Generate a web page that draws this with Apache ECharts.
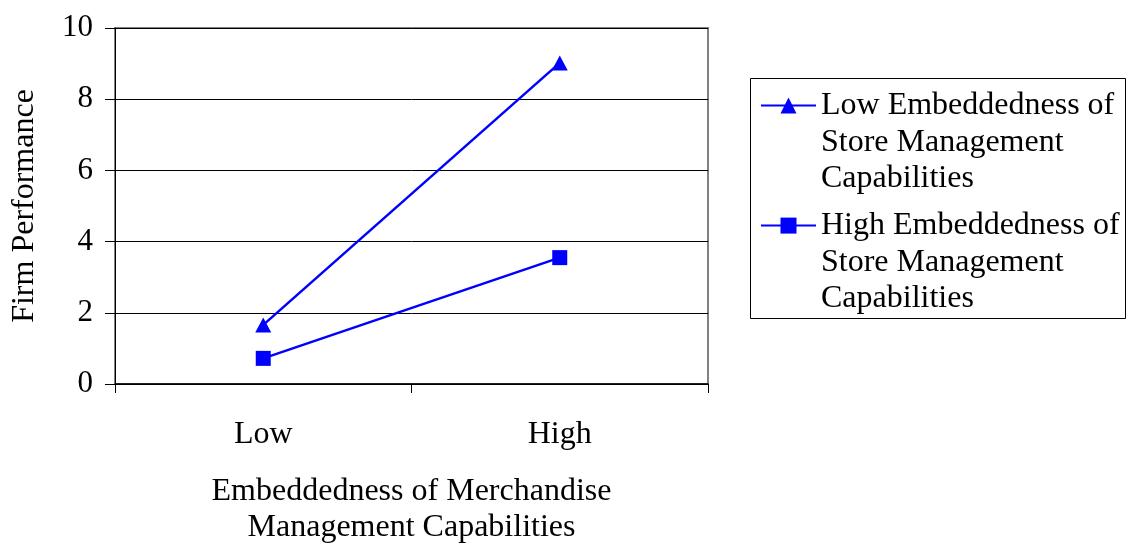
<!DOCTYPE html>
<html>
<head>
<meta charset="utf-8">
<script src="https://cdn.jsdelivr.net/npm/echarts@6/dist/echarts.min.js"></script>
<style>
  html, body { margin: 0; padding: 0; background: #fff; }
  #chart { width: 1127px; height: 543px; }
</style>
</head>
<body>
<div id="chart"></div>
<script>
// Categories on the x axis: embeddedness of merchandise management capabilities
const categories = ['Low', 'High'];
// Firm performance for each store-management embeddedness group
const lowStoreEmbeddedness = [1.66, 9.02];
const highStoreEmbeddedness = [0.72, 3.55];
const seriesNames = [
  'Low Embeddedness of Store Management Capabilities',
  'High Embeddedness of Store Management Capabilities'
];
// Two leading blank lines put the first text line level with the legend icon
const legendLines = {
  [seriesNames[0]]: '\n\nLow Embeddedness of\nStore Management\nCapabilities',
  [seriesNames[1]]: '\n\nHigh Embeddedness of\nStore Management\nCapabilities'
};
const yTicks = [0, 2, 4, 6, 8, 10];

const FONT = '"Liberation Serif", "Times New Roman", serif';
const LH = 36.7;
const BLUE = '#0000FF';

const chart = echarts.init(document.getElementById('chart'), null, { renderer: 'canvas' });

chart.setOption({
  backgroundColor: '#ffffff',
  animation: false,
  grid: {
    left: 115, right: 419, top: 28, bottom: 159,
    outerBoundsMode: 'none',
    containLabel: false,
    show: true, borderColor: '#808080', borderWidth: 2, backgroundColor: 'transparent'
  },
  legend: {
    orient: 'vertical',
    left: 760,
    top: 105.5 - 2.5 * LH,
    itemWidth: 55,
    itemHeight: 20,
    itemGap: -2 * LH + 10,
    padding: 0,
    data: seriesNames,
    formatter: name => legendLines[name],
    textStyle: {
      fontFamily: FONT, fontSize: 32, color: '#000', lineHeight: LH
    },
    selectedMode: false
  },
  graphic: [{
    type: 'rect',
    shape: { x: 750.5, y: 78.5, width: 375, height: 240 },
    style: { fill: 'none', stroke: '#000', lineWidth: 1 },
    z: 0
  }],
  xAxis: {
    type: 'category',
    data: categories,
    boundaryGap: true,
    axisLine: { show: true, lineStyle: { color: '#000', width: 1.5 } },
    axisTick: { show: true, length: 9, lineStyle: { color: '#000' } },
    axisLabel: { fontFamily: FONT, fontSize: 32, color: '#000', margin: 35 },
    splitLine: { show: false },
    name: 'Embeddedness of Merchandise\nManagement Capabilities',
    nameLocation: 'middle',
    nameGap: 89,
    nameTextStyle: { fontFamily: FONT, fontSize: 32, color: '#000', lineHeight: 36.7 }
  },
  yAxis: {
    type: 'value',
    min: yTicks[0],
    max: yTicks[yTicks.length - 1],
    interval: 2,
    axisLine: { show: true, lineStyle: { color: '#000', width: 1 } },
    axisTick: { show: true, length: 10, lineStyle: { color: '#000' } },
    axisLabel: { fontFamily: FONT, fontSize: 31, color: '#000', margin: 22 },
    splitLine: { show: true, lineStyle: { color: '#000', width: 1 } },
    name: 'Firm Performance',
    nameLocation: 'middle',
    nameGap: 74,
    nameTextStyle: { fontFamily: FONT, fontSize: 32, color: '#000' }
  },
  series: [
    {
      name: seriesNames[0],
      type: 'line',
      data: lowStoreEmbeddedness,
      symbol: 'triangle',
      symbolSize: [16, 15],
      lineStyle: { color: BLUE, width: 2.5 },
      itemStyle: { color: BLUE },
      z: 3
    },
    {
      name: seriesNames[1],
      type: 'line',
      data: highStoreEmbeddedness,
      symbol: 'rect',
      symbolSize: 15,
      lineStyle: { color: BLUE, width: 2.5 },
      itemStyle: { color: BLUE },
      z: 3
    }
  ]
});
</script>
</body>
</html>
